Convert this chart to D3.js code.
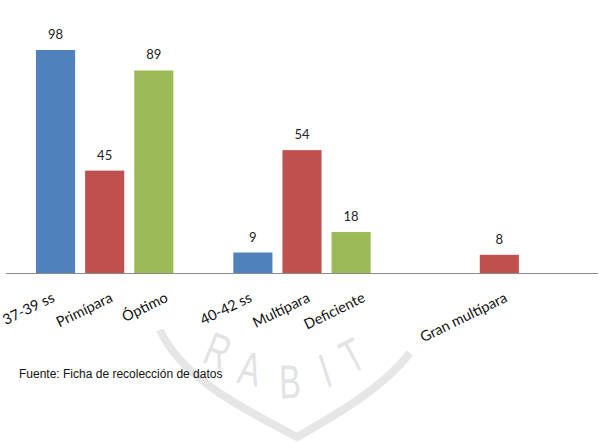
<!DOCTYPE html>
<html>
<head>
<meta charset="utf-8">
<script src="https://cdn.jsdelivr.net/npm/d3@7"></script>
<style>
  body { margin: 0; background: #fff; }
  svg { display: block; }
</style>
</head>
<body>
<div id="chart"></div>
<script>
// groups and series
const groups = ['g1', 'g2', 'g3'];
const series = ['s1', 's2', 's3'];
const seriesColors = ['#4F81BD', '#C0504D', '#9BBB59'];
const values = [
    [98, 45, 89],
    [9, 54, 18],
    [null, 8, null]
];
const catLabels = [
    ['37-39 ss', 'Primípara', 'Óptimo'],
    ['40-42 ss', 'Multípara', 'Deficiente'],
    ['', 'Gran multípara', '']
];
const sourceText = 'Fuente: Ficha de recolección de datos';

const width = 599, height = 442;
const baseY = 273;

const svg = d3.select('#chart').append('svg')
    .attr('width', width)
    .attr('height', height);

// faint watermark (logo behind the chart)
const wm = svg.append('g').attr('fill', 'none').attr('stroke', '#e6e6e6');
wm.append('path')
    .attr('stroke-width', 8)
    .attr('d', 'M160,330 C180,375 235,405 297,437 C345,410 385,385 410,353');
const wmLetters = [
    { t: 'R', x: 218, y: 350, r: 22 },
    { t: 'A', x: 250, y: 368, r: 12 },
    { t: 'B', x: 290, y: 381, r: -2 },
    { t: 'I', x: 325, y: 370, r: -18 },
    { t: 'T', x: 352, y: 355, r: -28 }
];
svg.append('g').selectAll('text')
    .data(wmLetters)
    .join('text')
    .attr('transform', d => `translate(${d.x},${d.y}) rotate(${d.r}) scale(0.85,1.25)`)
    .attr('text-anchor', 'middle')
    .attr('dy', '0.36em')
    .style('font-family', 'Liberation Sans, sans-serif')
    .style('font-size', '38px')
    .style('fill', '#e3e3e3')
    .text(d => d.t);

const x0 = d3.scaleBand()
    .domain(groups)
    .range([6, 598])
    .paddingInner(0)
    .paddingOuter(0);

const x1 = d3.scaleBand()
    .domain(series)
    .range([30, x0.bandwidth() - 30])
    .paddingInner(0.204)
    .paddingOuter(0);

const y = d3.scaleLinear()
    .domain([0, 98])
    .range([baseY, 50]);

const flat = [];
groups.forEach((g, gi) => {
    series.forEach((s, si) => {
        flat.push({ g, s, si, v: values[gi][si], label: catLabels[gi][si] });
    });
});

// axis line
svg.append('line')
    .attr('x1', x0.range()[0])
    .attr('x2', x0.range()[1])
    .attr('y1', baseY + 0.5)
    .attr('y2', baseY + 0.5)
    .attr('stroke', '#8a8a8a')
    .attr('stroke-width', 1);

const bars = flat.filter(d => d.v != null);

svg.append('g').selectAll('rect')
    .data(bars)
    .join('rect')
    .attr('x', d => x0(d.g) + x1(d.s))
    .attr('y', d => y(d.v))
    .attr('width', x1.bandwidth())
    .attr('height', d => y(0) - y(d.v))
    .attr('fill', d => seriesColors[d.si]);

svg.append('g').selectAll('text')
    .data(bars)
    .join('text')
    .attr('x', d => x0(d.g) + x1(d.s) + x1.bandwidth() / 2)
    .attr('y', d => y(d.v) - 11)
    .attr('text-anchor', 'middle')
    .style('font-family', 'Lato, sans-serif')
    .style('font-size', '13px')
    .style('fill', '#222')
    .text(d => d.v);

// rotated category labels, ends shifted a bit to the right like the original
const labelShift = [0, 9, 15];
svg.append('g').selectAll('text')
    .data(flat.filter(d => d.label))
    .join('text')
    .attr('transform', d => {
        const cx = x0(d.g) + x1(d.s) + x1.bandwidth() / 2;
        return `translate(${cx + labelShift[d.si]},${baseY + 28}) rotate(-26)`;
    })
    .attr('text-anchor', 'end')
    .style('font-family', 'Lato, sans-serif')
    .style('font-size', '14.5px')
    .style('fill', '#111')
    .text(d => d.label);

svg.append('text')
    .attr('x', 19)
    .attr('y', 378)
    .style('font-family', 'Liberation Sans, Arial, sans-serif')
    .style('font-size', '12px')
    .style('fill', '#111')
    .text(sourceText);
</script>
</body>
</html>
